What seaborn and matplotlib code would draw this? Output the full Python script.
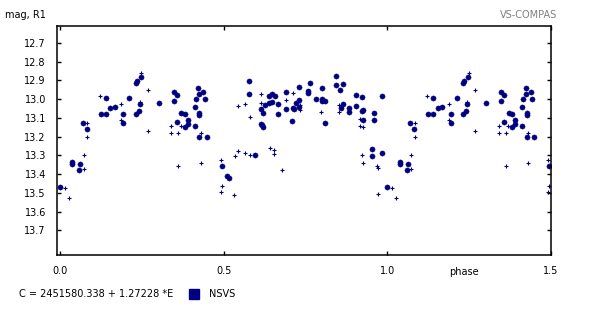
import numpy as np
import pandas as pd
import matplotlib
matplotlib.use("Agg")
import matplotlib.pyplot as plt
import seaborn as sns
from matplotlib.patches import Rectangle

# ---- data (phase 0..1, replicated to 1.5 as in the original plot) ----
dot_phase = [0.000, 0.038, 0.038, 0.062, 0.059, 0.069, 0.081, 0.139, 0.124, 0.139,
             0.154, 0.167, 0.193, 0.193, 0.246, 0.234, 0.231, 0.212, 0.244, 0.302,
             0.240, 0.231, 0.347, 0.357, 0.347, 0.371, 0.381, 0.390, 0.357, 0.381,
             0.390, 0.423, 0.424, 0.438, 0.414, 0.442, 0.412, 0.426, 0.426, 0.411,
             0.426, 0.448, 0.576, 0.576, 0.595, 0.494, 0.509, 0.516, 0.613, 0.619,
             0.613, 0.616, 0.619, 0.625, 0.637, 0.637, 0.648, 0.657, 0.648, 0.665,
             0.665, 0.690, 0.689, 0.708, 0.711, 0.716, 0.721, 0.730, 0.731, 0.731,
             0.763, 0.758, 0.758, 0.782, 0.800, 0.800, 0.800, 0.810, 0.810, 0.843,
             0.843, 0.864, 0.855, 0.904, 0.923, 0.984, 0.864, 0.858, 0.882, 0.882,
             0.904, 0.926, 0.923, 0.959, 0.959, 0.926, 0.953, 0.953, 0.984]
dot_mag = [13.469, 13.334, 13.346, 13.345, 13.377, 13.126, 13.158, 12.993, 13.078, 13.078,
           13.046, 13.042, 13.078, 13.126, 12.882, 12.902, 12.912, 12.992, 13.026, 13.019,
           13.062, 13.078, 12.960, 12.977, 13.009, 13.073, 13.078, 13.110, 13.121, 13.149,
           13.133, 12.941, 12.973, 12.960, 12.998, 12.998, 13.044, 13.073, 13.085, 13.142,
           13.201, 13.201, 12.902, 12.973, 13.297, 13.356, 13.412, 13.421, 13.051, 13.073,
           13.131, 13.139, 13.147, 13.030, 13.019, 12.984, 12.973, 12.984, 13.014, 13.026,
           13.080, 12.960, 13.055, 13.115, 13.048, 13.055, 13.019, 12.935, 13.003, 13.044,
           12.912, 12.955, 12.969, 12.999, 12.941, 12.999, 13.010, 13.008, 13.126, 12.877,
           12.925, 12.918, 12.951, 12.978, 12.989, 12.983, 13.025, 13.046, 13.046, 13.067,
           13.035, 13.057, 13.065, 13.074, 13.110, 13.112, 13.265, 13.302, 13.286]

plus_phase = [0.015, 0.027, 0.073, 0.073, 0.083, 0.083, 0.122, 0.187, 0.187, 0.248,
              0.269, 0.244, 0.269, 0.340, 0.370, 0.340, 0.361, 0.361, 0.431, 0.431,
              0.544, 0.566, 0.581, 0.544, 0.566, 0.535, 0.581, 0.492, 0.495, 0.492,
              0.532, 0.615, 0.615, 0.642, 0.654, 0.654, 0.679, 0.691, 0.713, 0.734,
              0.734, 0.798, 0.851, 0.853, 0.917, 0.917, 0.927, 0.924, 0.927, 0.969,
              0.973, 0.973]
plus_mag = [13.476, 13.530, 13.298, 13.375, 13.129, 13.202, 12.985, 13.028, 13.113, 12.861,
            12.953, 13.014, 13.172, 13.145, 13.145, 13.183, 13.183, 13.359, 13.183, 13.343,
            13.039, 13.028, 13.097, 13.279, 13.289, 13.306, 13.300, 13.327, 13.466, 13.498,
            13.514, 12.974, 13.022, 13.263, 13.273, 13.295, 13.380, 13.006, 12.969, 13.032,
            13.060, 13.071, 13.033, 13.071, 13.108, 13.144, 13.151, 13.300, 13.343, 13.357,
            13.370, 13.508]

y_ticks = [12.7, 12.8, 12.9, 13.0, 13.1, 13.2, 13.3, 13.4, 13.5, 13.6, 13.7]
x_ticks = [0.0, 0.5, 1.0, 1.5]
navy = "#000080"


def extend(ph, mg):
    df = pd.DataFrame({"phase": ph, "mag": mg})
    rep = df[df["phase"] <= 0.5].copy()
    rep["phase"] = rep["phase"] + 1.0
    return pd.concat([df, rep], ignore_index=True)


dots = extend(dot_phase, dot_mag)
pluses = extend(plus_phase, plus_mag)

plt.rcParams["font.family"] = ["DejaVu Sans"]
fig = plt.figure(figsize=(6.0, 3.12), dpi=100)
ax = fig.add_axes([57 / 600, 1 - 255 / 312, (551 - 57) / 600, (255 - 26) / 312])

sns.scatterplot(data=dots, x="phase", y="mag", ax=ax, marker="o", s=14,
                color=navy, edgecolor=navy, linewidth=0.3)
sns.scatterplot(data=pluses, x="phase", y="mag", ax=ax, marker="+", s=12,
                color=navy, linewidth=0.8)

ax.set_xlim(-0.0092, 1.5)
ax.set_ylim(13.832, 12.610)
ax.set_xticks(x_ticks)
ax.set_xticklabels([f"{v:.1f}" for v in x_ticks])
ax.set_yticks(y_ticks)
ax.set_yticklabels([f"{v:.1f}" for v in y_ticks])
ax.tick_params(axis="both", direction="in", length=3, width=1, labelsize=7,
               top=True, right=True, colors="black")
ax.tick_params(axis="y", pad=8)
ax.tick_params(axis="x", pad=8)
ax.set_xlabel("")
ax.set_ylabel("")
for sp in ax.spines.values():
    sp.set_linewidth(1.1)
    sp.set_color("black")

fig.text(5 / 600, 1 - 15.5 / 312, "mag, R1", fontsize=7, ha="left", va="center")
fig.text(557 / 600, 1 - 15 / 312, "VS-COMPAS", fontsize=7, ha="right", va="center",
         color="#808080")
fig.text(464 / 600, 1 - 272 / 312, "phase", fontsize=7, ha="center", va="center")
fig.text(19 / 600, 1 - 294 / 312, "C = 2451580.338 + 1.27228 *E", fontsize=7,
         ha="left", va="center")
fig.patches.append(Rectangle((189 / 600, 1 - 299 / 312), 10 / 600, 10 / 312,
                             transform=fig.transFigure, color=navy, figure=fig))
fig.text(209 / 600, 1 - 294 / 312, "NSVS", fontsize=7, ha="left", va="center")

fig.savefig("out.png", dpi=100)
